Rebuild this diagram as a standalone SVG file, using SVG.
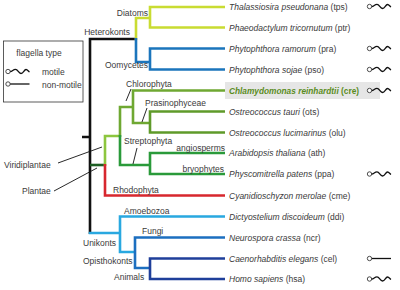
<svg xmlns="http://www.w3.org/2000/svg" width="400" height="290" viewBox="0 0 400 290">
<defs>
<style>
text{font-family:"Liberation Sans",Arial,sans-serif;font-size:8.5px;fill:#3a3a3a}
.sp{font-style:italic}
.clade{font-size:8.5px}
.br{fill:none;stroke-width:2.6;stroke-linejoin:miter;stroke-linecap:butt}
.k{stroke:#111}
.yg{stroke:#c9dc32}
.bl{stroke:#1b75bc}
.lg{stroke:#8dc63f}
.mg{stroke:#6fa832}
.og{stroke:#5f9a2a}
.dg{stroke:#2a9a3a}
.pg{stroke:#1e5f24}
.rd{stroke:#d7272e}
.lb{stroke:#29a8e0}
.mb{stroke:#1c6fc0}
.db{stroke:#1f3f9a}
.ptr{fill:none;stroke:#111;stroke-width:0.9}
</style>
<symbol id="motile" overflow="visible">
<circle cx="0" cy="0" r="2.2" fill="#fff" stroke="#222" stroke-width="0.8"/>
<path d="M2.2,0 C4.5,0 5,-2.2 7.5,-2.2 C10,-2.2 10.5,2 13,2 C15.5,2 16,-2 18,-2 C19.5,-2 20.5,0 21.5,0.5" fill="none" stroke="#111" stroke-width="1.3"/>
</symbol>
<symbol id="nonmotile" overflow="visible">
<circle cx="0" cy="0" r="2.2" fill="#fff" stroke="#222" stroke-width="0.8"/>
<path d="M2.2,0 H21.5" fill="none" stroke="#111" stroke-width="1.3"/>
</symbol>
</defs>
<rect width="400" height="290" fill="#fff"/>

<g id="legend">
<rect x="3.5" y="41" width="79.5" height="61" fill="#fff" stroke="#333" stroke-width="0.8"/>
<text x="39" y="56" text-anchor="middle" class="clade">flagella type</text>
<use href="#motile" x="8" y="71.5"/>
<text x="42" y="75" class="clade">motile</text>
<use href="#nonmotile" x="8" y="84"/>
<text x="42" y="87.5" class="clade">non-motile</text>
</g>

<g id="connectors">
<path class="br k" d="M82,137 H90 M90,38 V234 M88.7,39 H137"/>
<path class="br yg" d="M136,40 V18 H150 M225,7 H150 V27.5 H225"/>
<path class="br bl" d="M136,38 V62 H150 M225,48.5 H150 V69.5 H225"/>
<path class="br pg" d="M90,165 H106"/>
<path class="br lg" d="M105,166 V136 H121"/>
<path class="br mg" d="M120,137 V107 H133 M225,90.5 H133 V123 H150"/>
<path class="br og" d="M225,111.5 H150 V132.5 H225"/>
<path class="br dg" d="M120,135 V165 H150 M225,153 H150 V174 H225"/>
<path class="br rd" d="M105,164 V195.5 H225"/>
<path class="br lb" d="M88.7,233 H120 M225,216.5 H120 V252 H136"/>
<path class="br mb" d="M225,237.5 H135 V268 H151"/>
<path class="br db" d="M225,258.5 H150 V279 H225"/>
<path class="ptr" d="M131,89 L126,101 M147,108 L142,122 M137,148 L133,164 M58,163 L102,147 M54,191 L97,168"/>
</g>

<g id="clade-labels">
<g id="diatoms"><text class="clade" x="148" y="15.5" text-anchor="end">Diatoms</text></g>
<g id="heterokonts"><text class="clade" x="130" y="35" text-anchor="end">Heterokonts</text></g>
<g id="oomycetes"><text class="clade" x="148" y="68" text-anchor="end">Oomycetes</text></g>
<g id="chlorophyta"><text class="clade" x="126" y="87">Chlorophyta</text></g>
<g id="prasinophyceae"><text class="clade" x="145" y="106">Prasinophyceae</text></g>
<g id="streptophyta"><text class="clade" x="124" y="144">Streptophyta</text></g>
<g id="angiosperms"><text class="clade" x="225" y="151" text-anchor="end">angiosperms</text></g>
<g id="bryophytes"><text class="clade" x="224" y="172" text-anchor="end">bryophytes</text></g>
<g id="viridiplantae"><text class="clade" x="4" y="168">Viridiplantae</text></g>
<g id="plantae"><text class="clade" x="22" y="194">Plantae</text></g>
<g id="rhodophyta"><text class="clade" x="113" y="193">Rhodophyta</text></g>
<g id="amoebozoa"><text class="clade" x="124" y="214">Amoebozoa</text></g>
<g id="fungi"><text class="clade" x="142" y="234">Fungi</text></g>
<g id="unikonts"><text class="clade" x="83" y="246">Unikonts</text></g>
<g id="opisthokonts"><text class="clade" x="83" y="264">Opisthokonts</text></g>
<g id="animals"><text class="clade" x="114" y="280">Animals</text></g>
</g>

<g id="species">
<g id="tps"><text x="229" y="9.5"><tspan class="sp">Thalassiosira pseudonana</tspan> (tps)</text><use href="#motile" x="369.5" y="6.5"/></g>
<g id="ptr"><text x="229" y="30.5"><tspan class="sp">Phaeodactylum tricornutum</tspan> (ptr)</text></g>
<g id="pra"><text x="229" y="51.5"><tspan class="sp">Phytophthora ramorum</tspan> (pra)</text><use href="#motile" x="369.5" y="48.5"/></g>
<g id="pso"><text x="229" y="72.5"><tspan class="sp">Phytophthora sojae</tspan> (pso)</text><use href="#motile" x="369.5" y="69.5"/></g>
<g id="cre"><rect x="225" y="82" width="155" height="17" fill="#e6e6e6"/><text x="229" y="93.5" style="font-weight:bold;fill:#5a8c22;font-size:8.3px"><tspan class="sp">Chlamydomonas reinhardtii</tspan> (cre)</text><use href="#motile" x="369.5" y="90.5"/></g>
<g id="ots"><text x="229" y="114.5"><tspan class="sp">Ostreococcus tauri</tspan> (ots)</text></g>
<g id="olu"><text x="229" y="135.5"><tspan class="sp">Ostreococcus lucimarinus</tspan> (olu)</text></g>
<g id="ath"><text x="229" y="156"><tspan class="sp">Arabidopsis thaliana</tspan> (ath)</text></g>
<g id="ppa"><text x="229" y="177"><tspan class="sp">Physcomitrella patens</tspan> (ppa)</text><use href="#motile" x="369.5" y="174"/></g>
<g id="cme"><text x="229" y="198.5"><tspan class="sp">Cyanidioschyzon merolae</tspan> (cme)</text></g>
<g id="ddi"><text x="229" y="219.5"><tspan class="sp">Dictyostelium discoideum</tspan> (ddi)</text></g>
<g id="ncr"><text x="229" y="240.5"><tspan class="sp">Neurospora crassa</tspan> (ncr)</text></g>
<g id="cel"><text x="229" y="261.5"><tspan class="sp">Caenorhabditis elegans</tspan> (cel)</text><use href="#nonmotile" x="369.5" y="258.5"/></g>
<g id="hsa"><text x="229" y="282"><tspan class="sp">Homo sapiens</tspan> (hsa)</text><use href="#motile" x="369.5" y="279"/></g>
</g>
</svg>
